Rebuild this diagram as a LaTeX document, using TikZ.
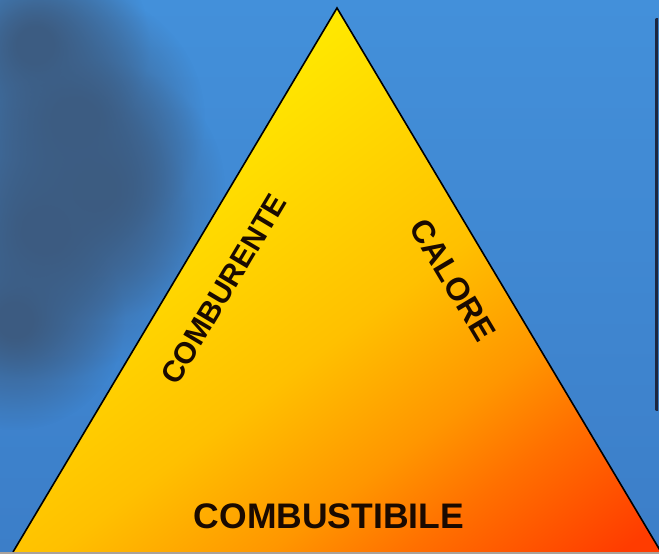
\documentclass[tikz, border = 0pt]{standalone}
\usepackage{fontspec}
\setmainfont{Liberation Sans}
\usetikzlibrary{fadings}

\definecolor{skytop}{HTML}{4390DA}
\definecolor{skybottom}{HTML}{3C7EC8}
\definecolor{shadowblue}{HTML}{3C5779}
\definecolor{fireA}{HTML}{FFEC00}
\definecolor{fireB}{HTML}{FFC000}
\definecolor{fireC}{HTML}{FF9600}
\definecolor{fireD}{HTML}{FF7000}
\definecolor{fireE}{HTML}{FF3C00}
\definecolor{navyline}{HTML}{1C2740}
\definecolor{plumline}{HTML}{4A2240}
\definecolor{inkdark}{HTML}{1A0A00}
\definecolor{bottomgrey}{HTML}{ABA29A}

\pgfdeclareradialshading{blobmask}{\pgfpointorigin}{color(0bp)=(pgftransparent!0); color(4bp)=(pgftransparent!0); color(13bp)=(pgftransparent!45); color(25bp)=(pgftransparent!100); color(50bp)=(pgftransparent!100)}
\pgfdeclarefading{softblob}{\pgfuseshading{blobmask}}

\pgfdeclarehorizontalshading{fireshade}{100bp}{color(0bp)=(fireA); color(30bp)=(fireA); color(54bp)=(fireB); color(65bp)=(fireC); color(72bp)=(fireD); color(83bp)=(fireE); color(100bp)=(fireE)}

\tikzset{
	sidelabel/.style = {font = \bfseries\fontsize{32}{32}\selectfont, text = inkdark, inner sep = 0pt},
	baselabel/.style = {font = \bfseries\fontsize{35.5}{35.5}\selectfont, text = inkdark, inner sep = 0pt},
	triedge/.style = {line width = 1.6pt, black, line join = miter},
	blob/.style = {shadowblue, path fading = softblob}
}

\begin{document}
\begin{tikzpicture}[x = 1pt, y = -1pt]
	 \useasboundingbox (0, 0) rectangle (659, 554);
	 \shade[top color = skytop, bottom color = skybottom] (0, 0) rectangle (659, 554);
	 
	 \begin{scope}[transparency group, opacity = 0.9]
	 	 \foreach \cx/\cy/\r in {35/45/115, 75/120/130, 95/190/130, 45/230/150, 15/320/110}
	 	 \fill[blob] (\cx, \cy) circle (\r);
	 \end{scope}
	 
	 \shade[top color = navyline, middle color = plumline, bottom color = navyline] (655.5, 18) rectangle (658, 410);
	 
	 \coordinate (apex) at (337, 8);
	 \coordinate (baseL) at (13, 552);
	 \coordinate (baseR) at (661, 552);
	 
	 \shade[shading = fireshade, shading angle = -53] (baseL) -- (apex) -- (baseR) -- cycle;
	 \draw[triedge] (baseL) -- (apex) -- (baseR);
	 
	 \fill[bottomgrey] (0, 552) rectangle (659, 554);
	 
	 \node[sidelabel, font = \bfseries\fontsize{30}{30}\selectfont, rotate = 59.2] (oxidiser) at (224, 289) {COMBURENTE};
	 
	 \node[sidelabel, rotate = -59.2] (heat) at (453, 280) {CALORE};
	 
	 \node[baselabel] (fuel) at (329, 516) {COMBUSTIBILE};
\end{tikzpicture}
\end{document}
